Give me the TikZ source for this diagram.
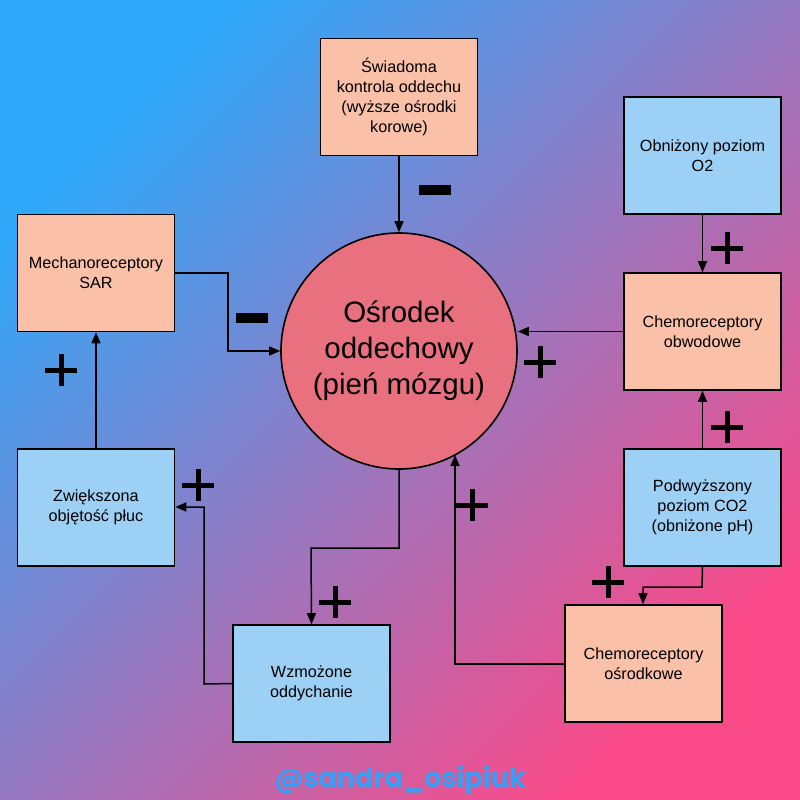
\documentclass[tikz,border=0pt]{standalone}
\usepackage{fontspec}
\setmainfont{Liberation Sans}
\newfontfamily\wm{Poppins}
\usetikzlibrary{arrows.meta}
\definecolor{salm}{HTML}{FBC0A8}
\definecolor{blu}{HTML}{9DD0F5}
\definecolor{circ}{HTML}{E8707F}
\definecolor{bgA}{HTML}{2FA8FA}
\definecolor{bgB}{HTML}{FA4A88}
\definecolor{wmc}{HTML}{3A9EF2}
\tikzset{
 box/.style={draw=black,line width=1.6pt,minimum width=157pt,minimum height=117pt,align=center,font=\fontsize{16.2}{20}\selectfont,inner sep=2pt},
 sb/.style={box,fill=salm}, bb/.style={box,fill=blu},
 ar/.style={draw=black,line width=1.5pt,-{Triangle[length=11pt,width=9pt]}},
 sign/.style={fill=black}
}
\newcommand{\mplus}[2]{\fill[sign] (#1-16,-#2-2.5) rectangle (#1+16,-#2+2.5); \fill[sign] (#1-2.5,-#2-16) rectangle (#1+2.5,-#2+16);}
\newcommand{\mminus}[2]{\fill[sign] (#1-16,-#2-5) rectangle (#1+16,-#2+5);}
\begin{document}
\begin{tikzpicture}[x=1pt,y=1pt]
\useasboundingbox (0,0) rectangle (800,-800);
\shade[top color=bgA,bottom color=bgB,shading angle=45] (0,0) rectangle (800,-800);
\node[sb] (sw) at (399,-97) {Świadoma\\kontrola oddechu\\(wyższe ośrodki\\korowe)};
\node[bb] (ob) at (702.5,-155.5) {Obniżony poziom\\O2};
\node[sb] (me) at (96,-273) {Mechanoreceptory\\SAR};
\node[sb] (co) at (702.5,-331.5) {Chemoreceptory\\obwodowe};
\node[bb] (zw) at (96,-507.5) {Zwiększona\\objętość płuc};
\node[bb] (po) at (702.5,-507.5) {Podwyższony\\poziom CO2\\(obniżone pH)};
\node[sb] (cs) at (643.5,-663.5) {Chemoreceptory\\ośrodkowe};
\node[bb] (wz) at (311.5,-683.5) {Wzmożone\\oddychanie};
\node[draw=black,line width=1.6pt,fill=circ,circle,minimum size=236pt,inner sep=0pt,align=center,font=\fontsize{29.5}{36}\selectfont] (c) at (399,-351) {Ośrodek\\oddechowy\\(pień mózgu)};
\coordinate (a1) at (228,-273); \coordinate (a2) at (228,-351);
\coordinate (b1) at (702,-587); \coordinate (b2) at (643,-587);
\coordinate (d1) at (455,-664);
\coordinate (e1) at (399,-548); \coordinate (e2) at (311,-548);
\coordinate (f1) at (204,-684); \coordinate (f2) at (204,-507);
\draw[ar] (sw.south) -- (c.north);
\draw[ar] (ob.south) -- (co.north);
\draw[ar] (co.west) -- (c.east |- co.west);
\draw[ar] (po.north) -- (co.south);
\draw[ar] (po.south) -- (b1) -- (b2) -- (b2 |- cs.north);
\draw[ar] (cs.west |- d1) -- (d1) -- (455,-455);
\draw[ar] (c.south) -- (e1) -- (e2) -- (wz.north);
\draw[ar] (wz.west) -- (f1) -- (f2) -- (zw.east |- f2);
\draw[ar] (zw.north) -- (me.south);
\draw[ar] (me.east) -- (a1) -- (a2) -- (c.west);
\mminus{435}{190}
\mminus{252}{318}
\mplus{727}{248}
\mplus{540}{362}
\mplus{727}{427}
\mplus{608}{582}
\mplus{472}{505}
\mplus{335}{602}
\mplus{198}{485}
\mplus{61}{370}
\node[font=\wm\bfseries\fontsize{27}{30}\selectfont,text=wmc] (w) at (400,-780) {@sandra\_osipiuk};
\end{tikzpicture}
\end{document}
